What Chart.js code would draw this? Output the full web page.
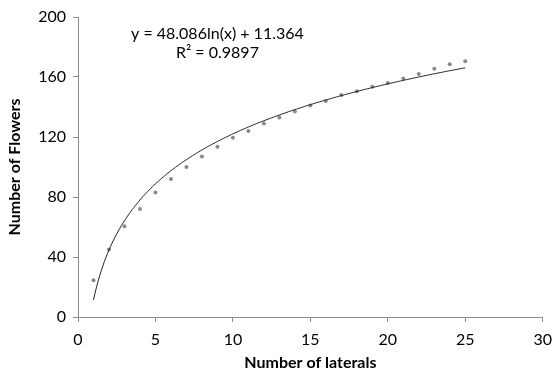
<!DOCTYPE html>
<html>
<head>
<meta charset="utf-8">
<script src="https://cdn.jsdelivr.net/npm/chart.js@4/dist/chart.umd.min.js"></script>
<style>
  html, body { margin: 0; padding: 0; background: #fff; }
  #wrap { width: 560px; height: 375px; }
</style>
</head>
<body>
<div id="wrap"><canvas id="flowerChart" width="560" height="375"></canvas></div>
<script>
// number of laterals vs number of flowers, with a log trendline
const laterals = [1, 2, 3, 4, 5, 6, 7, 8, 9, 10, 11, 12, 13, 14, 15, 16, 17, 18, 19, 20, 21, 22, 23, 24, 25];
const flowers = [24.5, 45, 60.5, 72, 83, 92, 100, 107, 113.5, 119.5, 124, 129, 133, 137, 141, 144, 148, 150.5, 153.5, 156, 159, 162, 165.5, 168.5, 170.5];
const trendCoef = [48.086, 11.364]; // y = a ln(x) + b
const rSquared = '0.9897';
const xTicks = [0, 5, 10, 15, 20, 25, 30];
const yTicks = [0, 40, 80, 120, 160, 200];

const fontFamily = 'Lato, "Open Sans", sans-serif';

// sample the trendline over the data range
const trendPts = [];
for (let x = laterals[0]; x <= laterals[laterals.length - 1] + 1e-9; x += 0.1) {
    trendPts.push({ x: x, y: trendCoef[0] * Math.log(x) + trendCoef[1] });
}

const equationLabel = {
    id: 'equationLabel',
    afterDraw(chart) {
        const c = chart.ctx;
        const area = chart.chartArea;
        c.save();
        c.fillStyle = '#000';
        c.font = '16px ' + fontFamily;
        c.textAlign = 'center';
        c.textBaseline = 'middle';
        const cx = chart.scales.x.getPixelForValue(9);
        c.fillText('y = ' + trendCoef[0] + 'ln(x) + ' + trendCoef[1], cx, area.top + 17);
        c.fillText('R\u00B2 = ' + rSquared, cx, area.top + 36);
        c.restore();
    }
};

let flowerChartInstance = null;
function drawFlowerChart() {
    const ctx = document.getElementById('flowerChart').getContext('2d');
    if (flowerChartInstance) flowerChartInstance.destroy();

    flowerChartInstance = new Chart(ctx, {
        type: 'scatter',
        data: {
            datasets: [{
                label: 'Flowers',
                data: laterals.map((x, i) => ({ x: x, y: flowers[i] })),
                pointRadius: 2,
                pointBackgroundColor: '#8a8a8a',
                pointBorderWidth: 0,
                showLine: false,
                order: 1
            }, {
                label: 'Trend',
                data: trendPts,
                showLine: true,
                pointRadius: 0,
                borderColor: '#222',
                borderWidth: 1,
                tension: 0,
                order: 0
            }]
        },
        options: {
            responsive: false,
            animation: false,
            layout: { padding: { top: 17, right: 6, left: 0, bottom: 0 } },
            plugins: {
                legend: { display: false },
                tooltip: { enabled: false }
            },
            scales: {
                x: {
                    type: 'linear',
                    min: 0,
                    max: 30,
                    afterBuildTicks: (s) => { s.ticks = xTicks.map(v => ({ value: v })); },
                    afterFit: (s) => { s.height = 58; },
                    grid: { drawOnChartArea: false, drawTicks: true, tickLength: 5, color: '#8c8c8c' },
                    border: { color: '#8c8c8c' },
                    ticks: { color: '#000', font: { family: fontFamily, size: 16 }, padding: 8, maxRotation: 0 },
                    title: {
                        display: true,
                        text: 'Number of laterals',
                        color: '#000',
                        font: { family: fontFamily, size: 16, weight: 'bold' },
                        padding: { top: 0, bottom: 3 }
                    }
                },
                y: {
                    type: 'linear',
                    min: 0,
                    max: 200,
                    afterBuildTicks: (s) => { s.ticks = yTicks.map(v => ({ value: v })); },
                    afterFit: (s) => { s.width = 78; },
                    grid: { drawOnChartArea: false, drawTicks: true, tickLength: 5, color: '#8c8c8c' },
                    border: { color: '#8c8c8c' },
                    ticks: { color: '#000', font: { family: fontFamily, size: 16 }, padding: 7 },
                    title: {
                        display: true,
                        text: 'Number of Flowers',
                        color: '#000',
                        font: { family: fontFamily, size: 16, weight: 'bold' },
                        padding: { top: 5, bottom: 0 }
                    }
                }
            }
        },
        plugins: [equationLabel]
    });
}

drawFlowerChart();
</script>
</body>
</html>
